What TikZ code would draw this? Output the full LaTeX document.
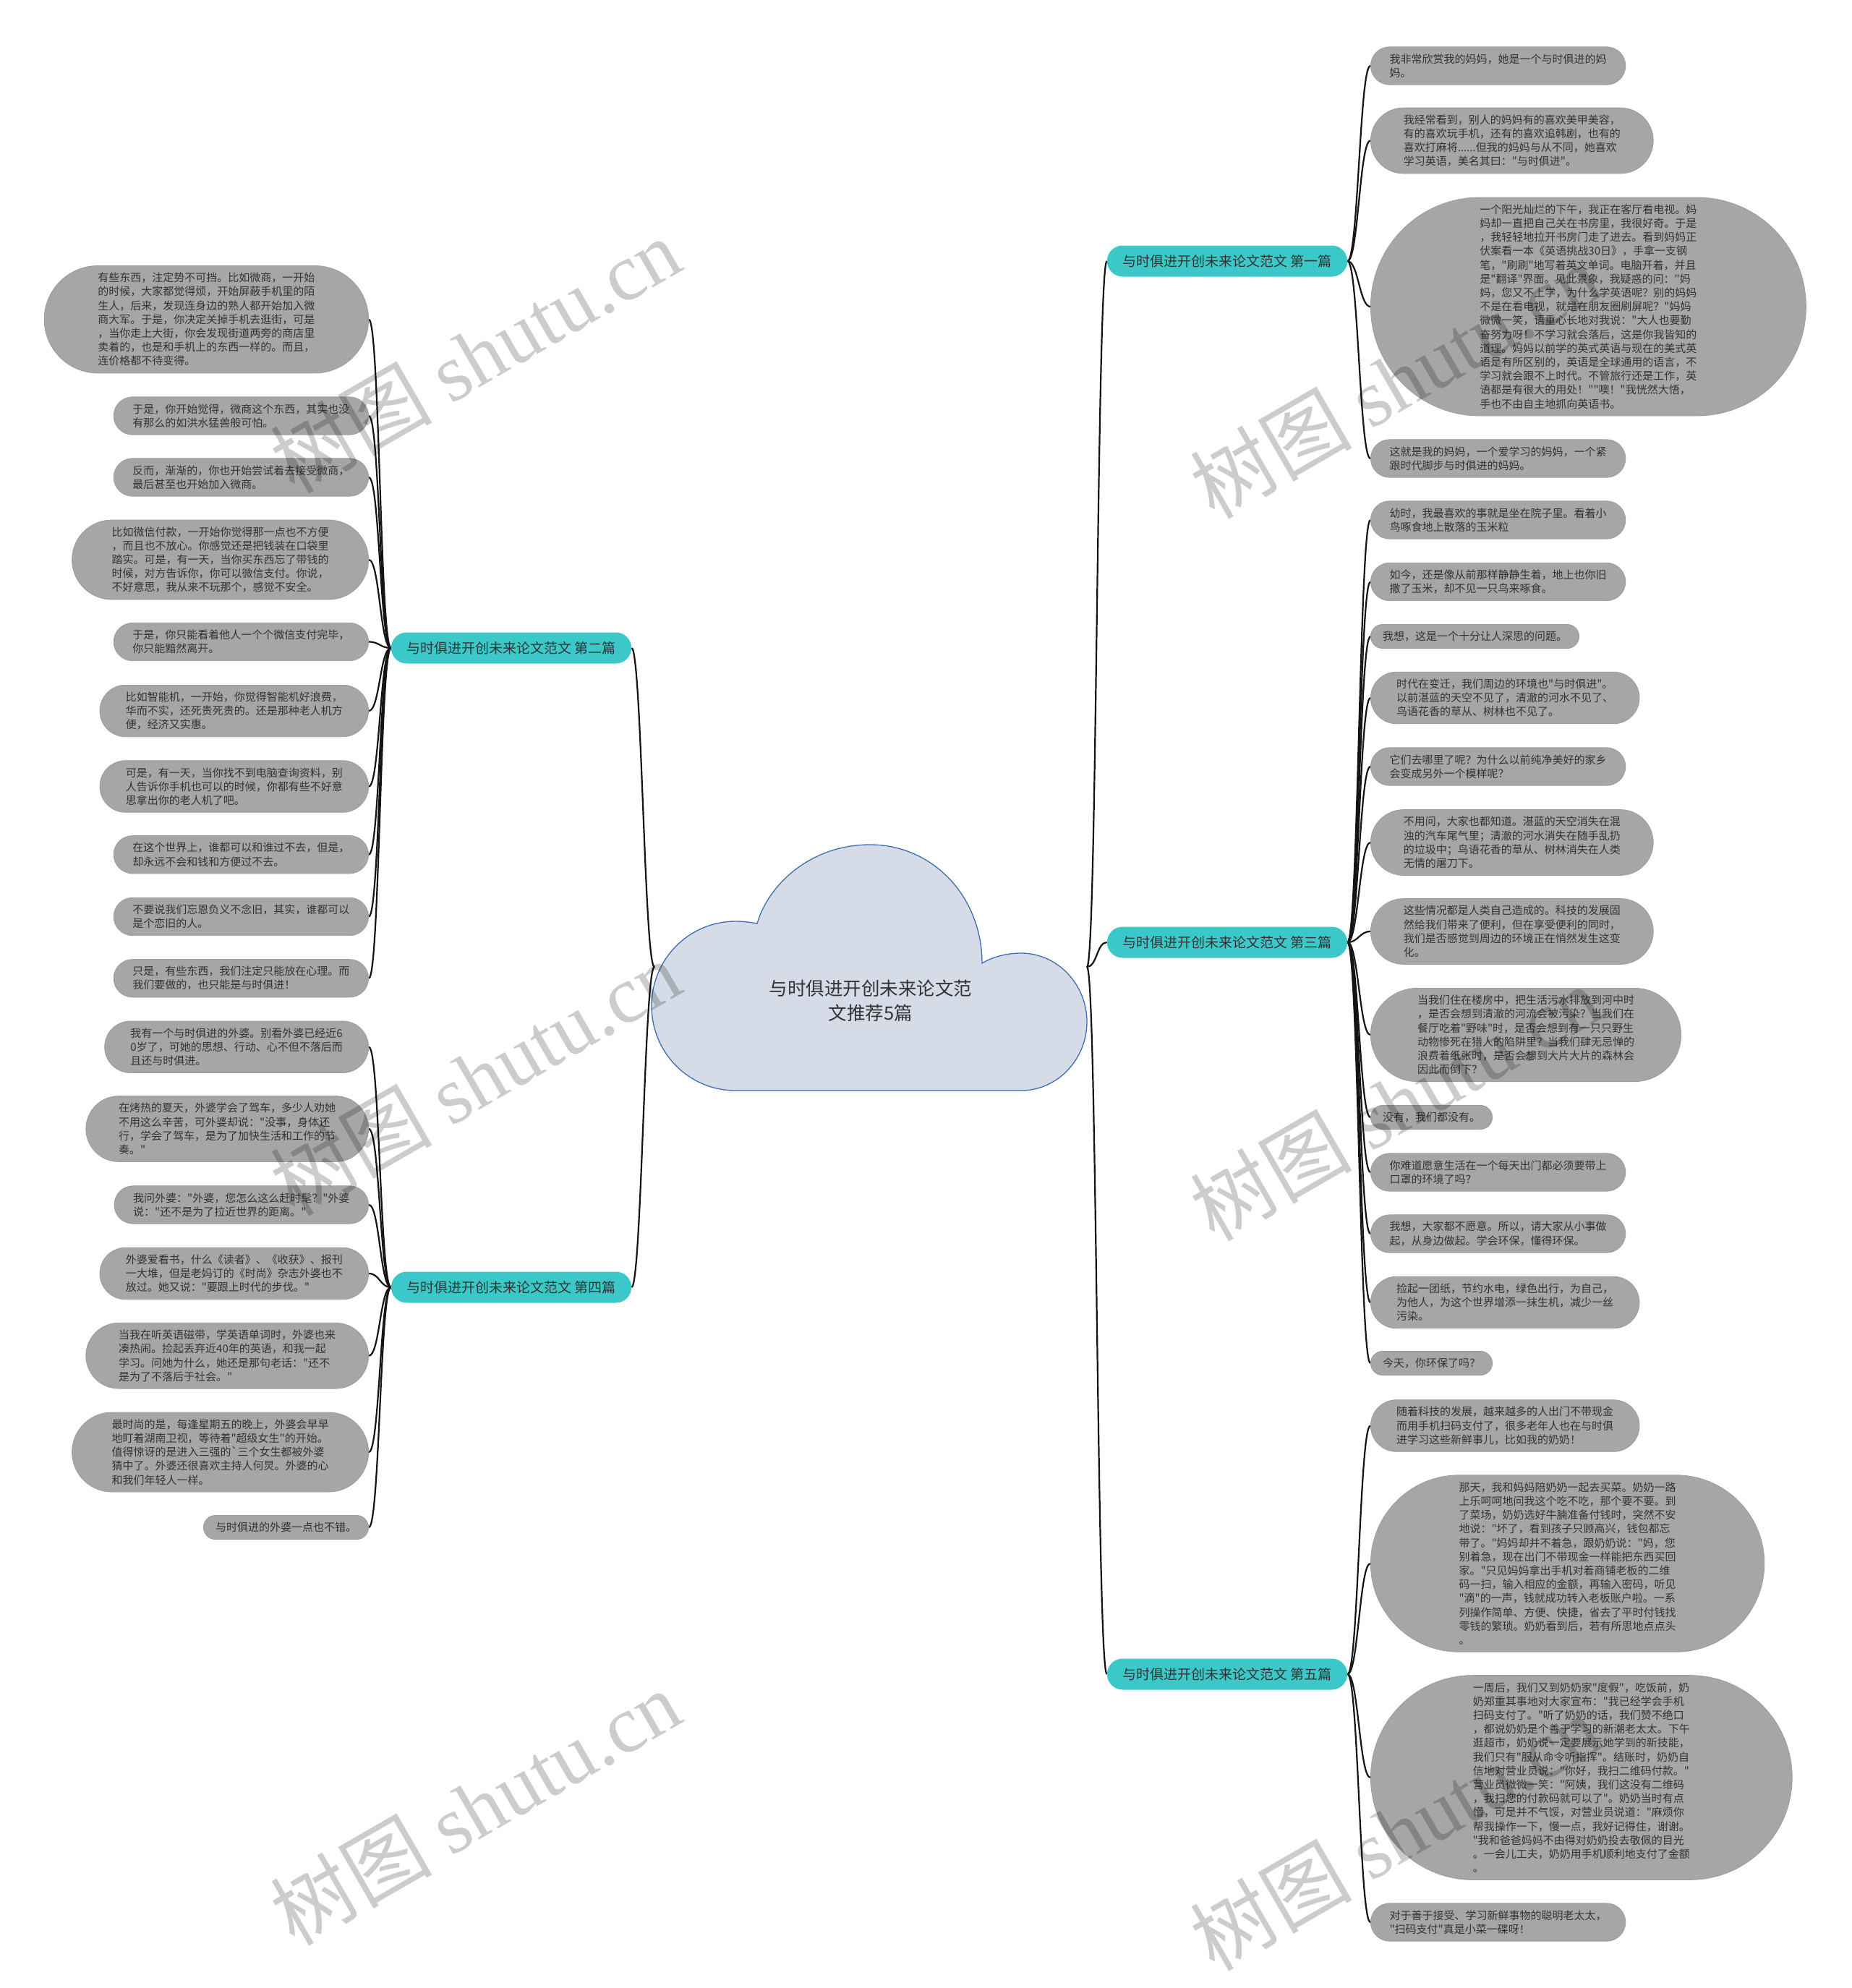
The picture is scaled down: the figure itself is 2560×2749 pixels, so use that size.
\documentclass[tikz,border=0pt]{standalone}
\usepackage{fontspec}
\newfontfamily\cjkfont{Noto Sans CJK SC}
\newfontfamily\wmlatin{Liberation Serif}
\pgfdeclarelayer{bg}
\pgfsetlayers{bg,main}
\definecolor{leafgray}{HTML}{A6A6A6}
\definecolor{leafline}{HTML}{9C9C9C}
\definecolor{branchteal}{HTML}{3CC8C8}
\definecolor{txt}{HTML}{333333}
\definecolor{cloudfill}{HTML}{D5DCE7}
\definecolor{cloudline}{HTML}{3C6EB4}
\tikzset{
  leaf/.style={rectangle, fill=leafgray, draw=leafline, line width=0.8pt,
    inner ysep=0pt, align=left, text=txt,
    font=\cjkfont\fontsize{15pt}{19.2pt}\selectfont},
  branch/.style={rectangle, rounded corners=21.5pt, fill=branchteal, inner xsep=21.5pt, inner ysep=0pt,
    minimum height=43pt, text=txt, font=\cjkfont\fontsize{19pt}{23pt}\selectfont},
  centertext/.style={align=center, text=txt, font=\cjkfont\fontsize{25.5pt}{34pt}\selectfont},
  conn/.style={draw=black!92, line width=2.2pt},
  wm/.style={rotate=30, text=black, text opacity=0.2, font=\cjkfont\fontsize{112pt}{112pt}\selectfont}
}
\newcommand\leafL[4]{\pgfmathsetmacro\lh{19.2*#3+14}\pgfmathsetmacro\lhh{\lh/2}%
  \node[leaf, minimum height=\lh pt, inner xsep=\lhh pt, rounded corners=\lhh pt, anchor=east] (#1) at (510,#2) {#4};}
\newcommand\leafR[4]{\pgfmathsetmacro\lh{19.2*#3+14}\pgfmathsetmacro\lhh{\lh/2}%
  \node[leaf, minimum height=\lh pt, inner xsep=\lhh pt, rounded corners=\lhh pt, anchor=west] (#1) at (1895,#2) {#4};}
\begin{document}
\begin{tikzpicture}[x=1pt,y=-1pt]
\useasboundingbox (0,0) rectangle (2560,2749);

% central cloud
\path[fill=cloudfill, draw=cloudline, line width=1.3pt]
  (1017,1508) -- (1412,1508)
  .. controls (1462,1508) and (1503,1465) .. (1503,1413)
  .. controls (1503,1361) and (1462,1318) .. (1412,1318)
  .. controls (1392,1318) and (1373,1323) .. (1358,1332)
  .. controls (1358,1240) and (1290,1168) .. (1203,1168)
  .. controls (1122,1168) and (1063,1222) .. (1047,1277)
  .. controls (1037,1275) and (1027,1274) .. (1017,1274)
  .. controls (953,1274) and (901,1326) .. (901,1391)
  .. controls (901,1456) and (953,1508) .. (1017,1508)
  -- cycle;
\node[centertext] (center) at (1204,1384) {与时俱进开创未来论文范\\文推荐5篇};
\coordinate (cL) at (905,1337);
\coordinate (cR) at (1503,1337);

% branches
\node[branch] (b1) at (1697,361) {与时俱进开创未来论文范文 第一篇};
\node[branch] (b2) at (707,896) {与时俱进开创未来论文范文 第二篇};
\node[branch] (b3) at (1697,1303) {与时俱进开创未来论文范文 第三篇};
\node[branch] (b4) at (707,1780) {与时俱进开创未来论文范文 第四篇};
\node[branch] (b5) at (1697,2315) {与时俱进开创未来论文范文 第五篇};

% left leaves, branch 2
\leafL{L1}{441.7}{7}{有些东西，注定势不可挡。比如微商，一开始\\的时候，大家都觉得烦，开始屏蔽手机里的陌\\生人，后来，发现连身边的熟人都开始加入微\\商大军。于是，你决定关掉手机去逛街，可是\\，当你走上大街，你会发现街道两旁的商店里\\卖着的，也是和手机上的东西一样的。而且，\\连价格都不待变得。}
\leafL{L2}{575}{2}{于是，你开始觉得，微商这个东西，其实也没\\有那么的如洪水猛兽般可怕。}
\leafL{L3}{660}{2}{反而，渐渐的，你也开始尝试着去接受微商，\\最后甚至也开始加入微商。}
\leafL{L4}{774}{5}{比如微信付款，一开始你觉得那一点也不方便\\，而且也不放心。你感觉还是把钱装在口袋里\\踏实。可是，有一天，当你买东西忘了带钱的\\时候，对方告诉你，你可以微信支付。你说，\\不好意思，我从来不玩那个，感觉不安全。}
\leafL{L5}{887.5}{2}{于是，你只能看着他人一个个微信支付完毕，\\你只能黯然离开。}
\leafL{L6}{983}{3}{比如智能机，一开始，你觉得智能机好浪费，\\华而不实，还死贵死贵的。还是那种老人机方\\便，经济又实惠。}
\leafL{L7}{1087.5}{3}{可是，有一天，当你找不到电脑查询资料，别\\人告诉你手机也可以的时候，你都有些不好意\\思拿出你的老人机了吧。}
\leafL{L8}{1181.7}{2}{在这个世界上，谁都可以和谁过不去，但是，\\却永远不会和钱和方便过不去。}
\leafL{L9}{1267.5}{2}{不要说我们忘恩负义不念旧，其实，谁都可以\\是个恋旧的人。}
\leafL{L10}{1352.8}{2}{只是，有些东西，我们注定只能放在心理。而\\我们要做的，也只能是与时俱进！}

% left leaves, branch 4
\leafL{L11}{1447.7}{3}{我有一个与时俱进的外婆。别看外婆已经近6\\0岁了，可她的思想、行动、心不但不落后而\\且还与时俱进。}
\leafL{L12}{1561}{4}{在烤热的夏天，外婆学会了驾车，多少人劝她\\不用这么辛苦，可外婆却说："没事，身体还\\行，学会了驾车，是为了加快生活和工作的节\\奏。"}
\leafL{L13}{1666}{2}{我问外婆："外婆，您怎么这么赶时髦？"外婆\\说："还不是为了拉近世界的距离。"}
\leafL{L14}{1761}{3}{外婆爱看书，什么《读者》、《收获》、报刊\\一大堆，但是老妈订的《时尚》杂志外婆也不\\放过。她又说："要跟上时代的步伐。"}
\leafL{L15}{1874.7}{4}{当我在听英语磁带，学英语单词时，外婆也来\\凑热闹。捡起丢弃近40年的英语，和我一起\\学习。问她为什么，她还是那句老话："还不\\是为了不落后于社会。"}
\leafL{L16}{2008}{5}{最时尚的是，每逢星期五的晚上，外婆会早早\\地盯着湖南卫视，等待着"超级女生"的开始。\\值得惊讶的是进入三强的`三个女生都被外婆\\猜中了。外婆还很喜欢主持人何炅。外婆的心\\和我们年轻人一样。}
\leafL{L17}{2112}{1}{与时俱进的外婆一点也不错。}

% right leaves, branch 1
\leafR{R1}{91}{2}{我非常欣赏我的妈妈，她是一个与时俱进的妈\\妈。}
\leafR{R2}{194.5}{4}{我经常看到，别人的妈妈有的喜欢美甲美容，\\有的喜欢玩手机，还有的喜欢追韩剧，也有的\\喜欢打麻将......但我的妈妈与从不同，她喜欢\\学习英语，美名其曰："与时俱进"。}
\leafR{R3}{424}{15}{一个阳光灿烂的下午，我正在客厅看电视。妈\\妈却一直把自己关在书房里，我很好奇。于是\\，我轻轻地拉开书房门走了进去。看到妈妈正\\伏案看一本《英语挑战30日》，手拿一支钢\\笔，"刷刷"地写着英文单词。电脑开着，并且\\是"翻译"界面。见此景象，我疑惑的问："妈\\妈，您又不上学，为什么学英语呢？别的妈妈\\不是在看电视，就是在朋友圈刷屏呢？"妈妈\\微微一笑，语重心长地对我说："大人也要勤\\奋努力呀！不学习就会落后，这是你我皆知的\\道理。妈妈以前学的英式英语与现在的美式英\\语是有所区别的，英语是全球通用的语言，不\\学习就会跟不上时代。不管旅行还是工作，英\\语都是有很大的用处！""噢！"我恍然大悟，\\手也不由自主地抓向英语书。}
\leafR{R4}{634}{2}{这就是我的妈妈，一个爱学习的妈妈，一个紧\\跟时代脚步与时俱进的妈妈。}

% right leaves, branch 3
\leafR{R5}{719}{2}{幼时，我最喜欢的事就是坐在院子里。看着小\\鸟啄食地上散落的玉米粒}
\leafR{R6}{804.5}{2}{如今，还是像从前那样静静生着，地上也你旧\\撒了玉米，却不见一只鸟来啄食。}
\leafR{R7}{880}{1}{我想，这是一个十分让人深思的问题。}
\leafR{R8}{965}{3}{时代在变迁，我们周边的环境也"与时俱进"。\\以前湛蓝的天空不见了，清澈的河水不见了、\\鸟语花香的草从、树林也不见了。}
\leafR{R9}{1060}{2}{它们去哪里了呢？为什么以前纯净美好的家乡\\会变成另外一个模样呢？}
\leafR{R10}{1165}{4}{不用问，大家也都知道。湛蓝的天空消失在混\\浊的汽车尾气里；清澈的河水消失在随手乱扔\\的垃圾中；鸟语花香的草从、树林消失在人类\\无情的屠刀下。}
\leafR{R11}{1288}{4}{这些情况都是人类自己造成的。科技的发展固\\然给我们带来了便利，但在享受便利的同时，\\我们是否感觉到周边的环境正在悄然发生这变\\化。}
\leafR{R12}{1431}{6}{当我们住在楼房中，把生活污水排放到河中时\\，是否会想到清澈的河流会被污染？当我们在\\餐厅吃着"野味"时，是否会想到有一只只野生\\动物惨死在猎人的陷阱里？当我们肆无忌惮的\\浪费着纸张时，是否会想到大片大片的森林会\\因此而倒下？}
\leafR{R13}{1545}{1}{没有，我们都没有。}
\leafR{R14}{1621}{2}{你难道愿意生活在一个每天出门都必须要带上\\口罩的环境了吗？}
\leafR{R15}{1706}{2}{我想，大家都不愿意。所以，请大家从小事做\\起，从身边做起。学会环保，懂得环保。}
\leafR{R16}{1801}{3}{捡起一团纸，节约水电，绿色出行，为自己，\\为他人，为这个世界增添一抹生机，减少一丝\\污染。}
\leafR{R17}{1885}{1}{今天，你环保了吗？}

% right leaves, branch 5
\leafR{R18}{1971.5}{3}{随着科技的发展，越来越多的人出门不带现金\\而用手机扫码支付了，很多老年人也在与时俱\\进学习这些新鲜事儿，比如我的奶奶！}
\leafR{R19}{2162}{12}{那天，我和妈妈陪奶奶一起去买菜。奶奶一路\\上乐呵呵地问我这个吃不吃，那个要不要。到\\了菜场，奶奶选好牛腩准备付钱时，突然不安\\地说："坏了，看到孩子只顾高兴，钱包都忘\\带了。"妈妈却并不着急，跟奶奶说："妈，您\\别着急，现在出门不带现金一样能把东西买回\\家。"只见妈妈拿出手机对着商铺老板的二维\\码一扫，输入相应的金额，再输入密码，听见\\"滴"的一声，钱就成功转入老板账户啦。一系\\列操作简单、方便、快捷，省去了平时付钱找\\零钱的繁琐。奶奶看到后，若有所思地点点头\\。}
\leafR{R20}{2458}{14}{一周后，我们又到奶奶家"度假"，吃饭前，奶\\奶郑重其事地对大家宣布："我已经学会手机\\扫码支付了。"听了奶奶的话，我们赞不绝口\\，都说奶奶是个善于学习的新潮老太太。下午\\逛超市，奶奶说一定要展示她学到的新技能，\\我们只有"服从命令听指挥"。结账时，奶奶自\\信地对营业员说："你好，我扫二维码付款。"\\营业员微微一笑："阿姨，我们这没有二维码\\，我扫您的付款码就可以了"。奶奶当时有点\\懵，可是并不气馁，对营业员说道："麻烦你\\帮我操作一下，慢一点，我好记得住，谢谢。\\"我和爸爸妈妈不由得对奶奶投去敬佩的目光\\。一会儿工夫，奶奶用手机顺利地支付了金额\\。}
\leafR{R21}{2658}{2}{对于善于接受、学习新鲜事物的聪明老太太，\\"扫码支付"真是小菜一碟呀！}

% connectors
\begin{pgfonlayer}{bg}
\draw[conn] (cL) .. controls +(-14,0) and +(14,0) .. (b2.east);
\draw[conn] (cL) .. controls +(-14,0) and +(14,0) .. (b4.east);
\draw[conn] (cR) .. controls +(14,0) and +(-14,0) .. (b1.west);
\draw[conn] (cR) .. controls +(14,0) and +(-14,0) .. (b3.west);
\draw[conn] (cR) .. controls +(14,0) and +(-14,0) .. (b5.west);
\foreach \i in {1,...,10} {\draw[conn] (b2.west) .. controls +(-15,0) and +(15,0) .. (L\i.east);}
\foreach \i in {11,...,17} {\draw[conn] (b4.west) .. controls +(-15,0) and +(15,0) .. (L\i.east);}
\foreach \i in {1,...,4} {\draw[conn] (b1.east) .. controls +(15,0) and +(-15,0) .. (R\i.west);}
\foreach \i in {5,...,17} {\draw[conn] (b3.east) .. controls +(15,0) and +(-15,0) .. (R\i.west);}
\foreach \i in {18,...,21} {\draw[conn] (b5.east) .. controls +(15,0) and +(-15,0) .. (R\i.west);}
\end{pgfonlayer}

% watermarks
\node[wm] (wm1) at (657,491) {树图 {\wmlatin shutu.cn}};
\node[wm] (wm2) at (657,1490) {树图 {\wmlatin shutu.cn}};
\node[wm] (wm3) at (657,2499) {树图 {\wmlatin shutu.cn}};
\node[wm] (wm4) at (1929,526) {树图 {\wmlatin shutu.cn}};
\node[wm] (wm5) at (1929,1525) {树图 {\wmlatin shutu.cn}};
\node[wm] (wm6) at (1929,2534) {树图 {\wmlatin shutu.cn}};
\end{tikzpicture}
\end{document}
